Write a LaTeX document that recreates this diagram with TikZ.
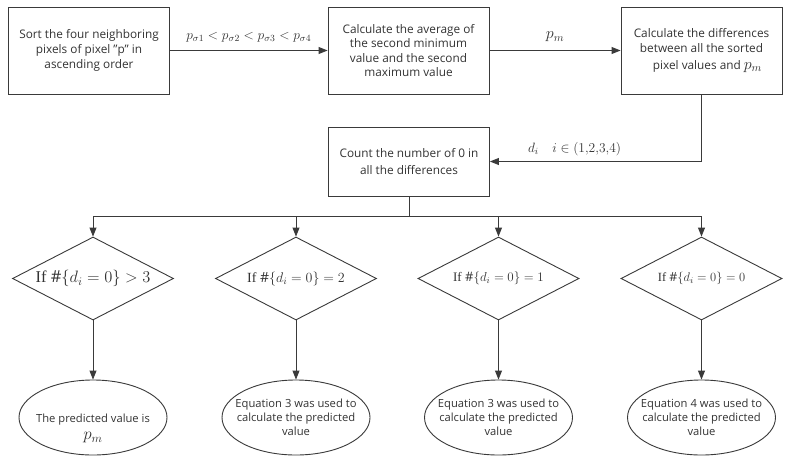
\RequirePackage{fix-cm}
\documentclass[tikz,border=0pt]{standalone}
\usepackage{fontspec}
\setmainfont{Open Sans}
\newfontfamily\condfont{Liberation Serif}
\usetikzlibrary{arrows.meta,shapes.geometric}
\definecolor{ink}{HTML}{3A3A3A}
\definecolor{txt}{HTML}{333333}
\newcommand{\condif}{{\condfont If}\ }
\begin{document}
\begin{tikzpicture}[x=1pt,y=-1pt,
  every node/.style={text=txt},
  stepbox/.style={draw=ink,line width=0.9pt,minimum width=161pt,minimum height=87pt,
    align=center,inner sep=2pt,font=\fontsize{11.8}{14.6}\selectfont},
  test/.style={draw=ink,line width=0.9pt,shape=diamond,aspect=1.94,minimum width=161pt,
    minimum height=83pt,inner sep=0pt},
  result/.style={draw=ink,line width=0.9pt,shape=ellipse,minimum width=148pt,minimum height=75pt,
    inner sep=0pt},
  resulttext/.style={align=center,inner sep=0pt,font=\fontsize{11.2}{14}\selectfont},
  link/.style={draw=ink,line width=0.9pt},
  arrow/.style={link,-{Triangle[length=9pt,width=7pt]}},
  lbl/.style={inner sep=1pt}
]
\useasboundingbox (0,0) rectangle (787,461);
\fill[white] (0,0) rectangle (787,461);

% top row of processing steps
\node[stepbox] (sort) at (89,50.5) {Sort the four neighboring\\pixels of pixel "p" in\\ascending order};
\node[stepbox] (avg) at (408.5,50.5) {Calculate the average of\\the second minimum\\value and the second\\maximum value};
\node[stepbox] (diff) at (701.5,50.5) {Calculate the differences\\between all the sorted\\[2pt]\hspace*{12pt}pixel values and {\fontsize{16}{14}\selectfont$p_m$}};

% counting step
\node[stepbox,minimum height=69pt,font=\fontsize{11.8}{16.5}\selectfont] (count) at (409,161.5) {Count the number of 0 in\\all the differences};

% decisions
\node[test] (t1) at (93,278.5) {\fontsize{16.5}{16}\selectfont\condif$\#\{d_i=0\}>3$};
\node[test] (t2) at (296,278.5) {\fontsize{14}{14}\selectfont\condif$\#\{d_i=0\}=2$};
\node[test] (t3) at (498.5,278.5) {\fontsize{13}{13}\selectfont\condif$\#\{d_i=0\}=1$};
\node[test] (t4) at (701.5,278.5) {\fontsize{12.5}{13}\selectfont\condif$\#\{d_i=0\}=0$};

% outcomes
\node[result] (r1) at (93,417.5) {};
\node[resulttext] (r1text) at ([yshift=-11pt]r1.center)
  {The predicted value is\\[3pt]{\fontsize{17}{14}\selectfont$p_m$}};
\node[result] (r2) at (296,417.5) {};
\node[resulttext] (r2text) at (r2.center) {Equation 3 was used to\\calculate the predicted\\value};
\node[result] (r3) at (498.5,417.5) {};
\node[resulttext] (r3text) at (r3.center) {Equation 3 was used to\\calculate the predicted\\value};
\node[result] (r4) at (701.5,417.5) {};
\node[resulttext] (r4text) at (r4.center) {Equation 4 was used to\\calculate the predicted\\value};

% connectors along the top
\draw[arrow] (sort) -- node[lbl,above=7pt,font=\fontsize{13.5}{14}\selectfont] {$p_{\sigma1}<p_{\sigma2}<p_{\sigma3}<p_{\sigma4}$} (avg);
\draw[arrow] (avg) -- node[lbl,above=7pt,font=\fontsize{16}{14}\selectfont] {$p_m$} (diff);
\draw[arrow] (diff.south) |- node[pos=0.8,lbl,above=4pt,font=\fontsize{13.5}{14}\selectfont] {$d_i\quad i\in(1{,}2{,}3{,}4)$} (count.east);

% branching bus
\coordinate (bus) at (409,216);
\draw[link] (count.south) -- (bus);
\draw[arrow] (bus) -| (t1.north);
\draw[arrow] (bus) -| (t2.north);
\draw[arrow] (bus) -| (t3.north);
\draw[arrow] (bus) -| (t4.north);

% decisions to outcomes
\draw[arrow] (t1.south) -- (r1.north);
\draw[arrow] (t2.south) -- (r2.north);
\draw[arrow] (t3.south) -- (r3.north);
\draw[arrow] (t4.south) -- (r4.north);
\end{tikzpicture}
\end{document}
